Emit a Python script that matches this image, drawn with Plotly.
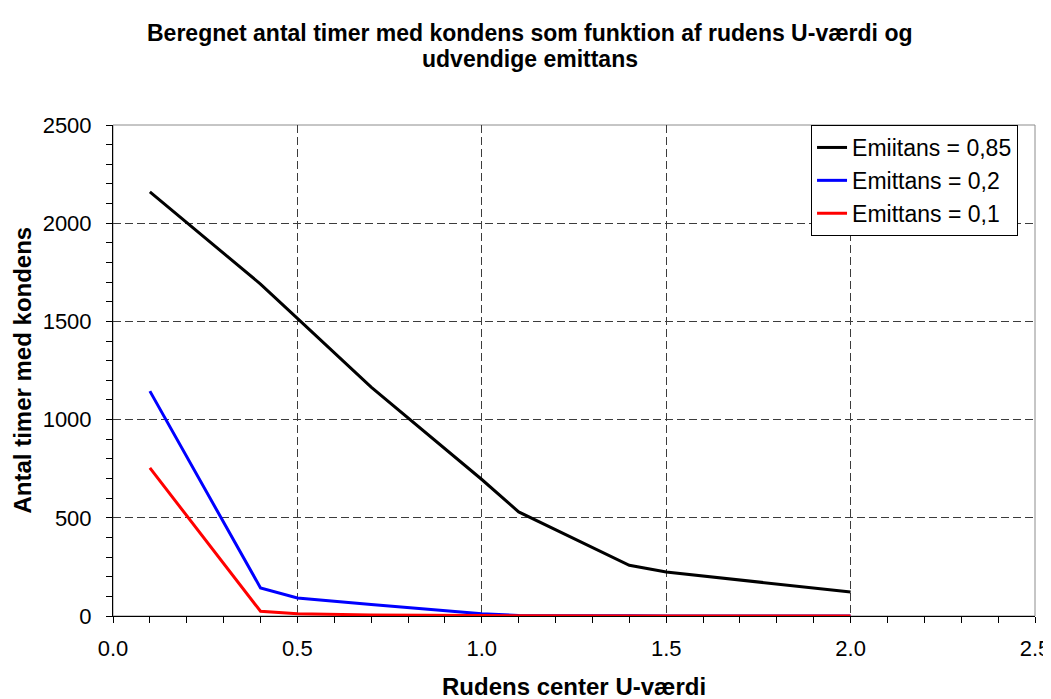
import plotly.graph_objects as go

INK = "#000000"
FONT = "Liberation Sans, Arial, sans-serif"

u_values = [0.1, 0.4, 0.5, 0.7, 1.0, 1.1, 1.4, 1.5, 2.0]
hours_085 = [2160, 1690, 1515, 1165, 695, 530, 258, 224, 122]
hours_02 = [1145, 143, 92, 58, 12, 3, 1, 0, 0]
hours_01 = [754, 24, 12, 5, 2, 1, 0, 0, 0]

series = [
    ("Emiitans = 0,85", hours_085, "#000000"),
    ("Emittans = 0,2", hours_02, "#0000ff"),
    ("Emittans = 0,1", hours_01, "#ff0000"),
]

title_lines = [
    "Beregnet antal timer med kondens som funktion af rudens U-værdi og",
    "udvendige emittans",
]

fig = go.Figure()
for name, ys, col in series:
    fig.add_trace(go.Scatter(
        x=u_values, y=ys, name=name, mode="lines",
        line=dict(color=col, width=3),
    ))

# plot-area frame (grey, Excel style); black axes drawn on top
fig.add_shape(type="rect", xref="paper", yref="paper", x0=0, y0=0, x1=1, y1=1,
              line=dict(color="#8c8c8c", width=1), layer="below")

# chart title, one annotation per line (tighter line spacing than <br>)
title_cx = (1043 / 2 - 105) / 922
for line, shift in zip(title_lines, [92, 66]):
    fig.add_annotation(
        xref="paper", yref="paper", x=title_cx, y=1, yshift=shift,
        text=f"<b>{line}</b>", showarrow=False,
        xanchor="center", yanchor="middle",
        font=dict(size=23, color=INK),
    )

# axis titles as annotations so they can sit where the original puts them
fig.add_annotation(
    xref="paper", yref="paper", x=0, y=0.5, xshift=-91,
    text="<b>Antal timer med kondens</b>", textangle=-90,
    showarrow=False, xanchor="center", yanchor="middle",
    font=dict(size=24, color=INK),
)
fig.add_annotation(
    xref="paper", yref="paper", x=0.5, y=0, yshift=-70,
    text="<b>Rudens center U-værdi</b>",
    showarrow=False, xanchor="center", yanchor="middle",
    font=dict(size=24, color=INK),
)

# page body adds an 8px offset, so the figure is 8px smaller than the window
fig.update_layout(
    width=1043, height=691,
    margin=dict(l=105, r=16, t=117, b=83),
    plot_bgcolor="white", paper_bgcolor="white",
    font=dict(family=FONT, color=INK, size=22),
    legend=dict(
        x=0.9816, y=1.0, xanchor="right", yanchor="top",
        bgcolor="white", bordercolor="#000000", borderwidth=1,
        font=dict(size=23), tracegroupgap=0, itemwidth=30,
    ),
    xaxis=dict(
        range=[0, 2.5], dtick=0.5, tickformat=".1f", automargin=False,
        showline=True, linecolor=INK, linewidth=1,
        ticks="outside", ticklen=6, tickcolor=INK, ticklabelstandoff=7,
        minor=dict(dtick=0.1, ticks="outside", ticklen=6, tickcolor=INK, showgrid=False),
        showgrid=True, gridcolor="#3c3c3c", griddash="8px,4px", gridwidth=1,
        zeroline=False,
    ),
    yaxis=dict(
        range=[0, 2500], dtick=500, automargin=False,
        showline=True, linecolor=INK, linewidth=1,
        ticks="outside", ticklen=6, tickcolor=INK, ticklabelstandoff=10,
        minor=dict(dtick=100, ticks="outside", ticklen=6, tickcolor=INK, showgrid=False),
        showgrid=True, gridcolor="#3c3c3c", griddash="8px,4px", gridwidth=1,
        zeroline=False,
    ),
)

fig.write_html("out.html")
